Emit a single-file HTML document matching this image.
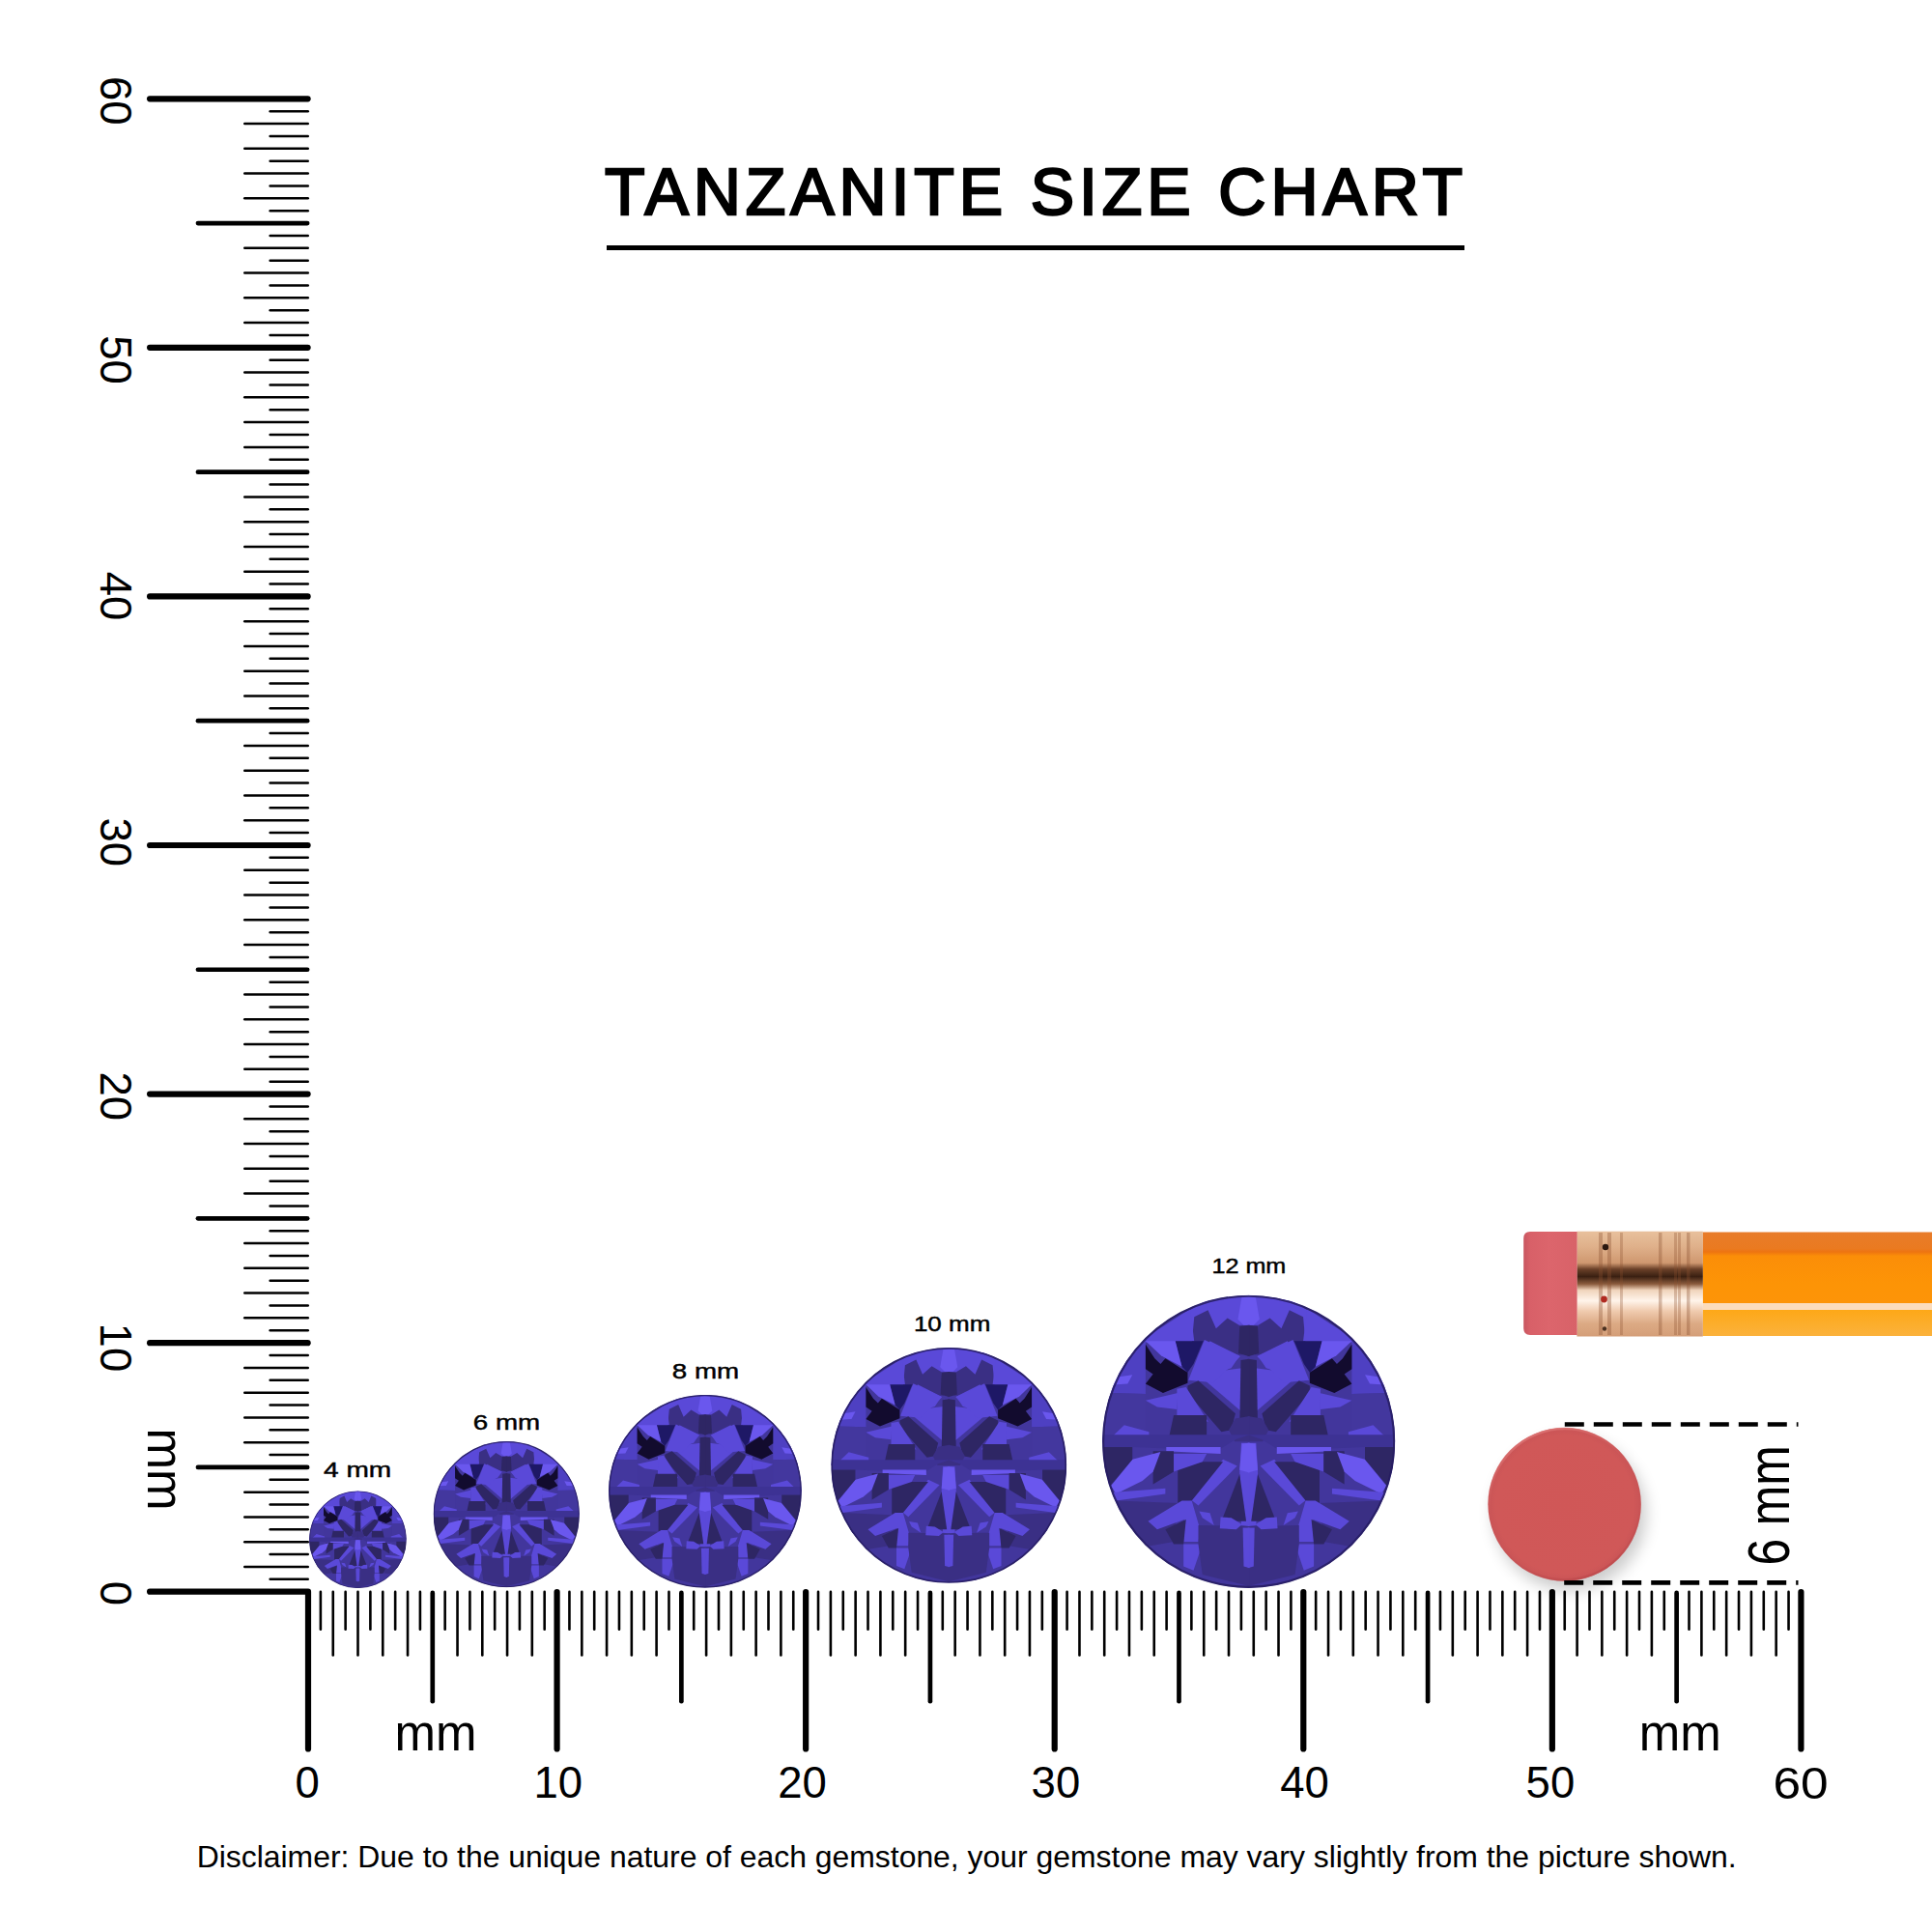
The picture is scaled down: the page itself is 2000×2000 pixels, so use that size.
<!DOCTYPE html>
<html><head><meta charset="utf-8"><style>
html,body{margin:0;padding:0;background:#fff;}
svg{display:block;}
</style></head><body>
<svg width="2000" height="2000" viewBox="0 0 2000 2000">
<defs>
<filter id="blur" x="-20%" y="-20%" width="140%" height="140%"><feGaussianBlur stdDeviation="8"/></filter>
<radialGradient id="redg" cx="0.5" cy="0.5" r="0.5"><stop offset="0" stop-color="#d05757"/><stop offset="0.9" stop-color="#d05858"/><stop offset="1" stop-color="#c95456"/></radialGradient>
<linearGradient id="redrim" x1="0.3" y1="0" x2="0.7" y2="1"><stop offset="0" stop-color="#de7676"/><stop offset="0.45" stop-color="#d05858" stop-opacity="0"/><stop offset="0.75" stop-color="#c04c4e" stop-opacity="0.3"/><stop offset="1" stop-color="#bf4a4d"/></linearGradient>
<linearGradient id="orange" x1="0" y1="0" x2="0" y2="1">
<stop offset="0" stop-color="#e87c2a"/><stop offset="0.16" stop-color="#ea7a20"/><stop offset="0.19" stop-color="#ee7410"/><stop offset="0.23" stop-color="#fb8e08"/><stop offset="0.5" stop-color="#fd9406"/><stop offset="0.68" stop-color="#fd9408"/><stop offset="0.685" stop-color="#fcdcbc"/><stop offset="0.745" stop-color="#fcdcbc"/><stop offset="0.75" stop-color="#fda818"/><stop offset="1" stop-color="#fbb23c"/></linearGradient>
<linearGradient id="ferr" x1="0" y1="0" x2="0" y2="1">
<stop offset="0" stop-color="#e8c09c"/><stop offset="0.15" stop-color="#dfb08a"/><stop offset="0.3" stop-color="#cf9870"/><stop offset="0.36" stop-color="#6a4028"/><stop offset="0.43" stop-color="#3a2012"/><stop offset="0.5" stop-color="#8a5a3c"/><stop offset="0.56" stop-color="#f0d4bc"/><stop offset="0.66" stop-color="#fff4ea"/><stop offset="0.76" stop-color="#efcaae"/><stop offset="0.88" stop-color="#dcaa84"/><stop offset="1" stop-color="#d49e78"/></linearGradient>
<linearGradient id="eras" x1="0" y1="0" x2="1" y2="0"><stop offset="0" stop-color="#c85660"/><stop offset="0.12" stop-color="#d86068"/><stop offset="0.5" stop-color="#dc656c"/><stop offset="1" stop-color="#d86268"/></linearGradient>
<symbol id="gem" viewBox="0 0 200 200"><clipPath id="gc"><circle cx="100" cy="100" r="100"/></clipPath><g clip-path="url(#gc)"><circle cx="100" cy="100" r="100" fill="#42369c"/>
<polygon points="99.4,0.0 130.2,3.9 167.1,27.5 171.8,32.2 131.0,32.2 106.6,20.4 99.4,20.4" fill="#5a49d8"/>
<polygon points="100.6,0.0 69.8,3.9 32.9,27.5 28.2,32.2 69.0,32.2 93.4,20.4 100.6,20.4" fill="#5a49d8"/>
<polygon points="106.6,20.4 114.5,15.7 122.3,22.8 127.8,10.2 137.2,14.9 138.8,32.2 131.0,32.2 123.9,40.8 104.2,40.8" fill="#3a2f84"/>
<polygon points="93.4,20.4 85.5,15.7 77.7,22.8 72.2,10.2 62.8,14.9 61.2,32.2 69.0,32.2 76.1,40.8 95.8,40.8" fill="#3a2f84"/>
<polygon points="99.4,0.4 104.6,0.6 107.4,16.5 103.5,20.4 99.4,20.4" fill="#6a57ee"/>
<polygon points="100.6,0.4 95.4,0.6 92.6,16.5 96.5,20.4 100.6,20.4" fill="#6a57ee"/>
<polygon points="140.0,9.4 165.3,25.8 170.4,31.4 150.1,31.4 137.2,31.4" fill="#5a49d8"/>
<polygon points="60.0,9.4 34.7,25.8 29.6,31.4 49.9,31.4 62.8,31.4" fill="#5a49d8"/>
<polygon points="165.3,25.8 176.5,35.9 187.8,49.9 195.1,66.8 170.4,67.4 170.4,31.4" fill="#4e40c2"/>
<polygon points="34.7,25.8 23.5,35.9 12.2,49.9 4.9,66.8 29.6,67.4 29.6,31.4" fill="#4e40c2"/>
<polygon points="170.4,67.4 195.1,66.8 199.0,86.5 200.2,100.0 170.4,92.1" fill="#43379e"/>
<polygon points="29.6,67.4 4.9,66.8 1.0,86.5 -0.2,100.0 29.6,92.1" fill="#43379e"/>
<polygon points="106.2,41.5 126.5,31.4 134.4,47.1 131.6,56.1 111.9,49.9" fill="#5a49d8"/>
<polygon points="93.8,41.5 73.5,31.4 65.6,47.1 68.4,56.1 88.1,49.9" fill="#5a49d8"/>
<polygon points="104.6,79.8 104.6,49.9 118.6,51.6 131.0,57.3" fill="#5a49d8"/>
<polygon points="95.4,79.8 95.4,49.9 81.4,51.6 69.0,57.3" fill="#5a49d8"/>
<polygon points="131.0,31.4 150.1,31.4 145.6,48.8 141.7,52.8 137.7,47.1" fill="#1e1866"/>
<polygon points="69.0,31.4 49.9,31.4 54.4,48.8 58.3,52.8 62.3,47.1" fill="#1e1866"/>
<polygon points="150.1,31.4 170.4,31.4 159.7,41.5 145.6,48.8" fill="#6a57ee"/>
<polygon points="49.9,31.4 29.6,31.4 40.3,41.5 54.4,48.8" fill="#6a57ee"/>
<polygon points="141.7,52.8 156.9,43.2 160.2,47.1 164.2,43.2 170.4,33.6 170.4,50.5 165.3,53.9 170.4,60.6 158.5,66.8 141.7,60.1" fill="#120b2e"/>
<polygon points="58.3,52.8 43.1,43.2 39.8,47.1 35.8,43.2 29.6,33.6 29.6,50.5 34.7,53.9 29.6,60.6 41.5,66.8 58.3,60.1" fill="#120b2e"/>
<polygon points="179.4,54.4 190.6,56.1 192.9,61.2 182.7,60.6" fill="#6a57ee"/>
<polygon points="20.6,54.4 9.4,56.1 7.1,61.2 17.3,60.6" fill="#6a57ee"/>
<polygon points="99.4,20.4 106.2,21.2 107.0,39.7 99.4,42.0" fill="#2e2664"/>
<polygon points="100.6,20.4 93.8,21.2 93.0,39.7 100.6,42.0" fill="#2e2664"/>
<polygon points="99.4,43.6 105.4,44.4 106.2,91.1 99.4,94.3" fill="#2e2664"/>
<polygon points="100.6,43.6 94.6,44.4 93.8,91.1 100.6,94.3" fill="#2e2664"/>
<polygon points="105.8,42.0 130.2,30.6 141.2,58.1 123.9,59.7" fill="#5a49d8"/>
<polygon points="94.2,42.0 69.8,30.6 58.8,58.1 76.1,59.7" fill="#5a49d8"/>
<polygon points="111.9,92.1 109.1,80.9 134.4,58.4 141.7,61.8 141.7,66.8 118.6,93.3" fill="#2e2664"/>
<polygon points="88.1,92.1 90.9,80.9 65.6,58.4 58.3,61.8 58.3,66.8 81.4,93.3" fill="#2e2664"/>
<polygon points="127.6,86.5 142.8,62.9 149.0,64.0 149.0,83.7" fill="#5a49d8"/>
<polygon points="72.4,86.5 57.2,62.9 51.0,64.0 51.0,83.7" fill="#5a49d8"/>
<polygon points="148.4,66.8 170.4,71.9 162.5,76.4 149.0,78.1" fill="#5a49d8"/>
<polygon points="51.6,66.8 29.6,71.9 37.5,76.4 51.0,78.1" fill="#5a49d8"/>
<polygon points="128.7,82.0 151.2,82.0 154.6,97.8 128.7,96.6" fill="#2e2664"/>
<polygon points="71.3,82.0 48.8,82.0 45.4,97.8 71.3,96.6" fill="#2e2664"/>
<polygon points="168.1,93.3 185.0,88.8 197.4,100.6 168.1,97.2" fill="#5a49d8"/>
<polygon points="31.9,93.3 15.0,88.8 2.6,100.6 31.9,97.2" fill="#5a49d8"/>
<polygon points="99.4,82.6 109.1,84.3 113.6,92.1 109.6,100.0 99.4,100.0" fill="#3a2f84"/>
<polygon points="100.6,82.6 90.9,84.3 86.4,92.1 90.4,100.0 100.6,100.0" fill="#3a2f84"/>
<polygon points="128.7,95.3 168.1,95.3 199.0,95.3 199.6,103.8 179.4,103.8 151.2,104.9 119.2,104.9 109.1,98.7 99.4,95.3" fill="#3d3294"/>
<polygon points="71.3,95.3 31.9,95.3 1.0,95.3 0.4,103.8 20.6,103.8 48.8,104.9 80.8,104.9 90.9,98.7 100.6,95.3" fill="#3d3294"/>
<polygon points="99.4,100.0 99.4,101.0 105.1,101.0 106.2,120.6 105.1,157.2 99.4,157.8" fill="#5a49d8"/>
<polygon points="100.6,100.0 100.6,101.0 94.9,101.0 93.8,120.6 94.9,157.2 100.6,157.8" fill="#5a49d8"/>
<polygon points="99.4,101.0 104.6,101.5 106.2,119.5 99.4,121.2" fill="#6a57ee"/>
<polygon points="100.6,101.0 95.4,101.5 93.8,119.5 100.6,121.2" fill="#6a57ee"/>
<polygon points="106.2,122.3 118.6,154.4 101.7,154.4" fill="#2e2664"/>
<polygon points="93.8,122.3 81.4,154.4 98.3,154.4" fill="#2e2664"/>
<polygon points="107.9,116.7 117.5,112.2 140.0,139.2 134.4,143.7" fill="#5a49d8"/>
<polygon points="92.1,116.7 82.5,112.2 60.0,139.2 65.6,143.7" fill="#5a49d8"/>
<polygon points="117.5,113.9 148.4,113.9 148.4,142.0 138.9,140.3" fill="#2e2664"/>
<polygon points="82.5,113.9 51.6,113.9 51.6,142.0 61.1,140.3" fill="#2e2664"/>
<polygon points="119.2,103.8 156.3,103.8 156.3,106.6 119.2,108.3" fill="#6a57ee"/>
<polygon points="80.8,103.8 43.7,103.8 43.7,106.6 80.8,108.3" fill="#6a57ee"/>
<polygon points="128.7,108.3 151.2,108.3 151.2,120.6 131.6,113.9" fill="#5a49d8"/>
<polygon points="71.3,108.3 48.8,108.3 48.8,120.6 68.4,113.9" fill="#5a49d8"/>
<polygon points="151.2,106.6 165.3,106.6 165.3,129.1 151.2,120.6" fill="#2e2664"/>
<polygon points="48.8,106.6 34.7,106.6 34.7,129.1 48.8,120.6" fill="#2e2664"/>
<polygon points="160.2,107.1 179.4,112.2 194.0,130.2 190.6,135.8 172.6,126.8 165.3,120.6" fill="#6a57ee"/>
<polygon points="39.8,107.1 20.6,112.2 6.0,130.2 9.4,135.8 27.4,126.8 34.7,120.6" fill="#6a57ee"/>
<polygon points="179.4,103.8 199.6,103.8 198.5,117.8 194.5,130.2 179.4,112.2" fill="#2e2664"/>
<polygon points="20.6,103.8 0.4,103.8 1.5,117.8 5.5,130.2 20.6,112.2" fill="#2e2664"/>
<polygon points="156.9,131.9 193.4,134.7 190.6,140.3 156.9,135.8" fill="#5a49d8"/>
<polygon points="43.1,131.9 6.6,134.7 9.4,140.3 43.1,135.8" fill="#5a49d8"/>
<polygon points="148.4,142.0 190.6,140.3 182.2,157.2 168.1,171.3 151.2,168.4" fill="#3a2f84"/>
<polygon points="51.6,142.0 9.4,140.3 17.8,157.2 31.9,171.3 48.8,168.4" fill="#3a2f84"/>
<polygon points="138.9,140.3 145.6,140.3 168.7,154.4 162.5,160.0 143.9,153.3 144.5,168.4 134.4,168.4 133.2,160.0" fill="#5a49d8"/>
<polygon points="61.1,140.3 54.4,140.3 31.3,154.4 37.5,160.0 56.1,153.3 55.5,168.4 65.6,168.4 66.8,160.0" fill="#5a49d8"/>
<polygon points="142.8,153.3 156.9,160.0 151.2,170.1 144.5,170.1" fill="#2e2664"/>
<polygon points="57.2,153.3 43.1,160.0 48.8,170.1 55.5,170.1" fill="#2e2664"/>
<polygon points="131.6,170.1 144.5,170.1 144.5,185.3 137.7,188.1" fill="#5a49d8"/>
<polygon points="68.4,170.1 55.5,170.1 55.5,185.3 62.3,188.1" fill="#5a49d8"/>
<polygon points="99.4,157.8 134.4,157.2 134.4,170.1 131.6,190.9 99.4,198.8" fill="#3a2f84"/>
<polygon points="100.6,157.8 65.6,157.2 65.6,170.1 68.4,190.9 100.6,198.8" fill="#3a2f84"/>
<polygon points="99.4,158.9 104.0,158.9 103.4,185.3 99.4,186.4" fill="#5a49d8"/>
<polygon points="100.6,158.9 96.0,158.9 96.6,185.3 100.6,186.4" fill="#5a49d8"/>
<polygon points="104.6,156.6 111.9,152.1 119.2,151.6 119.7,159.4 108.5,160.0" fill="#5a49d8"/>
<polygon points="95.4,156.6 88.1,152.1 80.8,151.6 80.3,159.4 91.5,160.0" fill="#5a49d8"/>
<polygon points="123.7,157.2 126.5,148.8 133.8,147.6 131.6,152.1" fill="#5a49d8"/>
<polygon points="76.3,157.2 73.5,148.8 66.2,147.6 68.4,152.1" fill="#5a49d8"/></g><circle cx="100" cy="100" r="99.3" fill="none" stroke="#261c60" stroke-width="1.4" opacity="0.85"/></symbol>
</defs>
<rect width="2000" height="2000" fill="#fff"/>
<g stroke="#000" stroke-linecap="round" fill="none">
<line x1="279.65" y1="1634.82" x2="318.75" y2="1634.82" stroke-width="2.5"/>
<line x1="253.25" y1="1621.94" x2="318.75" y2="1621.94" stroke-width="2.5"/>
<line x1="279.65" y1="1609.06" x2="318.75" y2="1609.06" stroke-width="2.5"/>
<line x1="253.25" y1="1596.19" x2="318.75" y2="1596.19" stroke-width="2.5"/>
<line x1="279.65" y1="1583.31" x2="318.75" y2="1583.31" stroke-width="2.5"/>
<line x1="253.25" y1="1570.43" x2="318.75" y2="1570.43" stroke-width="2.5"/>
<line x1="279.65" y1="1557.55" x2="318.75" y2="1557.55" stroke-width="2.5"/>
<line x1="253.25" y1="1544.67" x2="318.75" y2="1544.67" stroke-width="2.5"/>
<line x1="279.65" y1="1531.79" x2="318.75" y2="1531.79" stroke-width="2.5"/>
<line x1="204.95" y1="1518.91" x2="318.15" y2="1518.91" stroke-width="4.7"/>
<line x1="279.65" y1="1506.04" x2="318.75" y2="1506.04" stroke-width="2.5"/>
<line x1="253.25" y1="1493.16" x2="318.75" y2="1493.16" stroke-width="2.5"/>
<line x1="279.65" y1="1480.28" x2="318.75" y2="1480.28" stroke-width="2.5"/>
<line x1="253.25" y1="1467.40" x2="318.75" y2="1467.40" stroke-width="2.5"/>
<line x1="279.65" y1="1454.52" x2="318.75" y2="1454.52" stroke-width="2.5"/>
<line x1="253.25" y1="1441.64" x2="318.75" y2="1441.64" stroke-width="2.5"/>
<line x1="279.65" y1="1428.77" x2="318.75" y2="1428.77" stroke-width="2.5"/>
<line x1="253.25" y1="1415.89" x2="318.75" y2="1415.89" stroke-width="2.5"/>
<line x1="279.65" y1="1403.01" x2="318.75" y2="1403.01" stroke-width="2.5"/>
<line x1="155.10" y1="1390.13" x2="318.60" y2="1390.13" stroke-width="6.2"/>
<line x1="279.65" y1="1377.25" x2="318.75" y2="1377.25" stroke-width="2.5"/>
<line x1="253.25" y1="1364.37" x2="318.75" y2="1364.37" stroke-width="2.5"/>
<line x1="279.65" y1="1351.49" x2="318.75" y2="1351.49" stroke-width="2.5"/>
<line x1="253.25" y1="1338.62" x2="318.75" y2="1338.62" stroke-width="2.5"/>
<line x1="279.65" y1="1325.74" x2="318.75" y2="1325.74" stroke-width="2.5"/>
<line x1="253.25" y1="1312.86" x2="318.75" y2="1312.86" stroke-width="2.5"/>
<line x1="279.65" y1="1299.98" x2="318.75" y2="1299.98" stroke-width="2.5"/>
<line x1="253.25" y1="1287.10" x2="318.75" y2="1287.10" stroke-width="2.5"/>
<line x1="279.65" y1="1274.22" x2="318.75" y2="1274.22" stroke-width="2.5"/>
<line x1="204.95" y1="1261.35" x2="318.15" y2="1261.35" stroke-width="4.7"/>
<line x1="279.65" y1="1248.47" x2="318.75" y2="1248.47" stroke-width="2.5"/>
<line x1="253.25" y1="1235.59" x2="318.75" y2="1235.59" stroke-width="2.5"/>
<line x1="279.65" y1="1222.71" x2="318.75" y2="1222.71" stroke-width="2.5"/>
<line x1="253.25" y1="1209.83" x2="318.75" y2="1209.83" stroke-width="2.5"/>
<line x1="279.65" y1="1196.95" x2="318.75" y2="1196.95" stroke-width="2.5"/>
<line x1="253.25" y1="1184.07" x2="318.75" y2="1184.07" stroke-width="2.5"/>
<line x1="279.65" y1="1171.20" x2="318.75" y2="1171.20" stroke-width="2.5"/>
<line x1="253.25" y1="1158.32" x2="318.75" y2="1158.32" stroke-width="2.5"/>
<line x1="279.65" y1="1145.44" x2="318.75" y2="1145.44" stroke-width="2.5"/>
<line x1="155.10" y1="1132.56" x2="318.60" y2="1132.56" stroke-width="6.2"/>
<line x1="279.65" y1="1119.68" x2="318.75" y2="1119.68" stroke-width="2.5"/>
<line x1="253.25" y1="1106.80" x2="318.75" y2="1106.80" stroke-width="2.5"/>
<line x1="279.65" y1="1093.92" x2="318.75" y2="1093.92" stroke-width="2.5"/>
<line x1="253.25" y1="1081.05" x2="318.75" y2="1081.05" stroke-width="2.5"/>
<line x1="279.65" y1="1068.17" x2="318.75" y2="1068.17" stroke-width="2.5"/>
<line x1="253.25" y1="1055.29" x2="318.75" y2="1055.29" stroke-width="2.5"/>
<line x1="279.65" y1="1042.41" x2="318.75" y2="1042.41" stroke-width="2.5"/>
<line x1="253.25" y1="1029.53" x2="318.75" y2="1029.53" stroke-width="2.5"/>
<line x1="279.65" y1="1016.65" x2="318.75" y2="1016.65" stroke-width="2.5"/>
<line x1="204.95" y1="1003.77" x2="318.15" y2="1003.77" stroke-width="4.7"/>
<line x1="279.65" y1="990.90" x2="318.75" y2="990.90" stroke-width="2.5"/>
<line x1="253.25" y1="978.02" x2="318.75" y2="978.02" stroke-width="2.5"/>
<line x1="279.65" y1="965.14" x2="318.75" y2="965.14" stroke-width="2.5"/>
<line x1="253.25" y1="952.26" x2="318.75" y2="952.26" stroke-width="2.5"/>
<line x1="279.65" y1="939.38" x2="318.75" y2="939.38" stroke-width="2.5"/>
<line x1="253.25" y1="926.50" x2="318.75" y2="926.50" stroke-width="2.5"/>
<line x1="279.65" y1="913.63" x2="318.75" y2="913.63" stroke-width="2.5"/>
<line x1="253.25" y1="900.75" x2="318.75" y2="900.75" stroke-width="2.5"/>
<line x1="279.65" y1="887.87" x2="318.75" y2="887.87" stroke-width="2.5"/>
<line x1="155.10" y1="874.99" x2="318.60" y2="874.99" stroke-width="6.2"/>
<line x1="279.65" y1="862.11" x2="318.75" y2="862.11" stroke-width="2.5"/>
<line x1="253.25" y1="849.23" x2="318.75" y2="849.23" stroke-width="2.5"/>
<line x1="279.65" y1="836.35" x2="318.75" y2="836.35" stroke-width="2.5"/>
<line x1="253.25" y1="823.48" x2="318.75" y2="823.48" stroke-width="2.5"/>
<line x1="279.65" y1="810.60" x2="318.75" y2="810.60" stroke-width="2.5"/>
<line x1="253.25" y1="797.72" x2="318.75" y2="797.72" stroke-width="2.5"/>
<line x1="279.65" y1="784.84" x2="318.75" y2="784.84" stroke-width="2.5"/>
<line x1="253.25" y1="771.96" x2="318.75" y2="771.96" stroke-width="2.5"/>
<line x1="279.65" y1="759.08" x2="318.75" y2="759.08" stroke-width="2.5"/>
<line x1="204.95" y1="746.21" x2="318.15" y2="746.21" stroke-width="4.7"/>
<line x1="279.65" y1="733.33" x2="318.75" y2="733.33" stroke-width="2.5"/>
<line x1="253.25" y1="720.45" x2="318.75" y2="720.45" stroke-width="2.5"/>
<line x1="279.65" y1="707.57" x2="318.75" y2="707.57" stroke-width="2.5"/>
<line x1="253.25" y1="694.69" x2="318.75" y2="694.69" stroke-width="2.5"/>
<line x1="279.65" y1="681.81" x2="318.75" y2="681.81" stroke-width="2.5"/>
<line x1="253.25" y1="668.93" x2="318.75" y2="668.93" stroke-width="2.5"/>
<line x1="279.65" y1="656.06" x2="318.75" y2="656.06" stroke-width="2.5"/>
<line x1="253.25" y1="643.18" x2="318.75" y2="643.18" stroke-width="2.5"/>
<line x1="279.65" y1="630.30" x2="318.75" y2="630.30" stroke-width="2.5"/>
<line x1="155.10" y1="617.42" x2="318.60" y2="617.42" stroke-width="6.2"/>
<line x1="279.65" y1="604.54" x2="318.75" y2="604.54" stroke-width="2.5"/>
<line x1="253.25" y1="591.66" x2="318.75" y2="591.66" stroke-width="2.5"/>
<line x1="279.65" y1="578.78" x2="318.75" y2="578.78" stroke-width="2.5"/>
<line x1="253.25" y1="565.91" x2="318.75" y2="565.91" stroke-width="2.5"/>
<line x1="279.65" y1="553.03" x2="318.75" y2="553.03" stroke-width="2.5"/>
<line x1="253.25" y1="540.15" x2="318.75" y2="540.15" stroke-width="2.5"/>
<line x1="279.65" y1="527.27" x2="318.75" y2="527.27" stroke-width="2.5"/>
<line x1="253.25" y1="514.39" x2="318.75" y2="514.39" stroke-width="2.5"/>
<line x1="279.65" y1="501.51" x2="318.75" y2="501.51" stroke-width="2.5"/>
<line x1="204.95" y1="488.63" x2="318.15" y2="488.63" stroke-width="4.7"/>
<line x1="279.65" y1="475.76" x2="318.75" y2="475.76" stroke-width="2.5"/>
<line x1="253.25" y1="462.88" x2="318.75" y2="462.88" stroke-width="2.5"/>
<line x1="279.65" y1="450.00" x2="318.75" y2="450.00" stroke-width="2.5"/>
<line x1="253.25" y1="437.12" x2="318.75" y2="437.12" stroke-width="2.5"/>
<line x1="279.65" y1="424.24" x2="318.75" y2="424.24" stroke-width="2.5"/>
<line x1="253.25" y1="411.36" x2="318.75" y2="411.36" stroke-width="2.5"/>
<line x1="279.65" y1="398.49" x2="318.75" y2="398.49" stroke-width="2.5"/>
<line x1="253.25" y1="385.61" x2="318.75" y2="385.61" stroke-width="2.5"/>
<line x1="279.65" y1="372.73" x2="318.75" y2="372.73" stroke-width="2.5"/>
<line x1="155.10" y1="359.85" x2="318.60" y2="359.85" stroke-width="6.2"/>
<line x1="279.65" y1="346.97" x2="318.75" y2="346.97" stroke-width="2.5"/>
<line x1="253.25" y1="334.09" x2="318.75" y2="334.09" stroke-width="2.5"/>
<line x1="279.65" y1="321.21" x2="318.75" y2="321.21" stroke-width="2.5"/>
<line x1="253.25" y1="308.34" x2="318.75" y2="308.34" stroke-width="2.5"/>
<line x1="279.65" y1="295.46" x2="318.75" y2="295.46" stroke-width="2.5"/>
<line x1="253.25" y1="282.58" x2="318.75" y2="282.58" stroke-width="2.5"/>
<line x1="279.65" y1="269.70" x2="318.75" y2="269.70" stroke-width="2.5"/>
<line x1="253.25" y1="256.82" x2="318.75" y2="256.82" stroke-width="2.5"/>
<line x1="279.65" y1="243.94" x2="318.75" y2="243.94" stroke-width="2.5"/>
<line x1="204.95" y1="231.07" x2="318.15" y2="231.07" stroke-width="4.7"/>
<line x1="279.65" y1="218.19" x2="318.75" y2="218.19" stroke-width="2.5"/>
<line x1="253.25" y1="205.31" x2="318.75" y2="205.31" stroke-width="2.5"/>
<line x1="279.65" y1="192.43" x2="318.75" y2="192.43" stroke-width="2.5"/>
<line x1="253.25" y1="179.55" x2="318.75" y2="179.55" stroke-width="2.5"/>
<line x1="279.65" y1="166.67" x2="318.75" y2="166.67" stroke-width="2.5"/>
<line x1="253.25" y1="153.79" x2="318.75" y2="153.79" stroke-width="2.5"/>
<line x1="279.65" y1="140.92" x2="318.75" y2="140.92" stroke-width="2.5"/>
<line x1="253.25" y1="128.04" x2="318.75" y2="128.04" stroke-width="2.5"/>
<line x1="279.65" y1="115.16" x2="318.75" y2="115.16" stroke-width="2.5"/>
<line x1="155.10" y1="102.28" x2="318.60" y2="102.28" stroke-width="6.2"/>
<line x1="331.88" y1="1647.90" x2="331.88" y2="1686.70" stroke-width="2.6"/>
<line x1="344.76" y1="1647.90" x2="344.76" y2="1713.40" stroke-width="2.6"/>
<line x1="357.64" y1="1647.90" x2="357.64" y2="1686.70" stroke-width="2.6"/>
<line x1="370.51" y1="1647.90" x2="370.51" y2="1713.40" stroke-width="2.6"/>
<line x1="383.39" y1="1647.90" x2="383.39" y2="1686.70" stroke-width="2.6"/>
<line x1="396.27" y1="1647.90" x2="396.27" y2="1713.40" stroke-width="2.6"/>
<line x1="409.15" y1="1647.90" x2="409.15" y2="1686.70" stroke-width="2.6"/>
<line x1="422.03" y1="1647.90" x2="422.03" y2="1713.40" stroke-width="2.6"/>
<line x1="434.91" y1="1647.90" x2="434.91" y2="1686.70" stroke-width="2.6"/>
<line x1="447.78" y1="1648.95" x2="447.78" y2="1761.15" stroke-width="4.7"/>
<line x1="460.66" y1="1647.90" x2="460.66" y2="1686.70" stroke-width="2.6"/>
<line x1="473.54" y1="1647.90" x2="473.54" y2="1713.40" stroke-width="2.6"/>
<line x1="486.42" y1="1647.90" x2="486.42" y2="1686.70" stroke-width="2.6"/>
<line x1="499.30" y1="1647.90" x2="499.30" y2="1713.40" stroke-width="2.6"/>
<line x1="512.18" y1="1647.90" x2="512.18" y2="1686.70" stroke-width="2.6"/>
<line x1="525.06" y1="1647.90" x2="525.06" y2="1713.40" stroke-width="2.6"/>
<line x1="537.93" y1="1647.90" x2="537.93" y2="1686.70" stroke-width="2.6"/>
<line x1="550.81" y1="1647.90" x2="550.81" y2="1713.40" stroke-width="2.6"/>
<line x1="563.69" y1="1647.90" x2="563.69" y2="1686.70" stroke-width="2.6"/>
<line x1="576.57" y1="1648.10" x2="576.57" y2="1810.40" stroke-width="6.2"/>
<line x1="589.45" y1="1647.90" x2="589.45" y2="1686.70" stroke-width="2.6"/>
<line x1="602.33" y1="1647.90" x2="602.33" y2="1713.40" stroke-width="2.6"/>
<line x1="615.21" y1="1647.90" x2="615.21" y2="1686.70" stroke-width="2.6"/>
<line x1="628.08" y1="1647.90" x2="628.08" y2="1713.40" stroke-width="2.6"/>
<line x1="640.96" y1="1647.90" x2="640.96" y2="1686.70" stroke-width="2.6"/>
<line x1="653.84" y1="1647.90" x2="653.84" y2="1713.40" stroke-width="2.6"/>
<line x1="666.72" y1="1647.90" x2="666.72" y2="1686.70" stroke-width="2.6"/>
<line x1="679.60" y1="1647.90" x2="679.60" y2="1713.40" stroke-width="2.6"/>
<line x1="692.48" y1="1647.90" x2="692.48" y2="1686.70" stroke-width="2.6"/>
<line x1="705.36" y1="1648.95" x2="705.36" y2="1761.15" stroke-width="4.7"/>
<line x1="718.23" y1="1647.90" x2="718.23" y2="1686.70" stroke-width="2.6"/>
<line x1="731.11" y1="1647.90" x2="731.11" y2="1713.40" stroke-width="2.6"/>
<line x1="743.99" y1="1647.90" x2="743.99" y2="1686.70" stroke-width="2.6"/>
<line x1="756.87" y1="1647.90" x2="756.87" y2="1713.40" stroke-width="2.6"/>
<line x1="769.75" y1="1647.90" x2="769.75" y2="1686.70" stroke-width="2.6"/>
<line x1="782.63" y1="1647.90" x2="782.63" y2="1713.40" stroke-width="2.6"/>
<line x1="795.50" y1="1647.90" x2="795.50" y2="1686.70" stroke-width="2.6"/>
<line x1="808.38" y1="1647.90" x2="808.38" y2="1713.40" stroke-width="2.6"/>
<line x1="821.26" y1="1647.90" x2="821.26" y2="1686.70" stroke-width="2.6"/>
<line x1="834.14" y1="1648.10" x2="834.14" y2="1810.40" stroke-width="6.2"/>
<line x1="847.02" y1="1647.90" x2="847.02" y2="1686.70" stroke-width="2.6"/>
<line x1="859.90" y1="1647.90" x2="859.90" y2="1713.40" stroke-width="2.6"/>
<line x1="872.78" y1="1647.90" x2="872.78" y2="1686.70" stroke-width="2.6"/>
<line x1="885.65" y1="1647.90" x2="885.65" y2="1713.40" stroke-width="2.6"/>
<line x1="898.53" y1="1647.90" x2="898.53" y2="1686.70" stroke-width="2.6"/>
<line x1="911.41" y1="1647.90" x2="911.41" y2="1713.40" stroke-width="2.6"/>
<line x1="924.29" y1="1647.90" x2="924.29" y2="1686.70" stroke-width="2.6"/>
<line x1="937.17" y1="1647.90" x2="937.17" y2="1713.40" stroke-width="2.6"/>
<line x1="950.05" y1="1647.90" x2="950.05" y2="1686.70" stroke-width="2.6"/>
<line x1="962.93" y1="1648.95" x2="962.93" y2="1761.15" stroke-width="4.7"/>
<line x1="975.80" y1="1647.90" x2="975.80" y2="1686.70" stroke-width="2.6"/>
<line x1="988.68" y1="1647.90" x2="988.68" y2="1713.40" stroke-width="2.6"/>
<line x1="1001.56" y1="1647.90" x2="1001.56" y2="1686.70" stroke-width="2.6"/>
<line x1="1014.44" y1="1647.90" x2="1014.44" y2="1713.40" stroke-width="2.6"/>
<line x1="1027.32" y1="1647.90" x2="1027.32" y2="1686.70" stroke-width="2.6"/>
<line x1="1040.20" y1="1647.90" x2="1040.20" y2="1713.40" stroke-width="2.6"/>
<line x1="1053.07" y1="1647.90" x2="1053.07" y2="1686.70" stroke-width="2.6"/>
<line x1="1065.95" y1="1647.90" x2="1065.95" y2="1713.40" stroke-width="2.6"/>
<line x1="1078.83" y1="1647.90" x2="1078.83" y2="1686.70" stroke-width="2.6"/>
<line x1="1091.71" y1="1648.10" x2="1091.71" y2="1810.40" stroke-width="6.2"/>
<line x1="1104.59" y1="1647.90" x2="1104.59" y2="1686.70" stroke-width="2.6"/>
<line x1="1117.47" y1="1647.90" x2="1117.47" y2="1713.40" stroke-width="2.6"/>
<line x1="1130.35" y1="1647.90" x2="1130.35" y2="1686.70" stroke-width="2.6"/>
<line x1="1143.22" y1="1647.90" x2="1143.22" y2="1713.40" stroke-width="2.6"/>
<line x1="1156.10" y1="1647.90" x2="1156.10" y2="1686.70" stroke-width="2.6"/>
<line x1="1168.98" y1="1647.90" x2="1168.98" y2="1713.40" stroke-width="2.6"/>
<line x1="1181.86" y1="1647.90" x2="1181.86" y2="1686.70" stroke-width="2.6"/>
<line x1="1194.74" y1="1647.90" x2="1194.74" y2="1713.40" stroke-width="2.6"/>
<line x1="1207.62" y1="1647.90" x2="1207.62" y2="1686.70" stroke-width="2.6"/>
<line x1="1220.49" y1="1648.95" x2="1220.49" y2="1761.15" stroke-width="4.7"/>
<line x1="1233.37" y1="1647.90" x2="1233.37" y2="1686.70" stroke-width="2.6"/>
<line x1="1246.25" y1="1647.90" x2="1246.25" y2="1713.40" stroke-width="2.6"/>
<line x1="1259.13" y1="1647.90" x2="1259.13" y2="1686.70" stroke-width="2.6"/>
<line x1="1272.01" y1="1647.90" x2="1272.01" y2="1713.40" stroke-width="2.6"/>
<line x1="1284.89" y1="1647.90" x2="1284.89" y2="1686.70" stroke-width="2.6"/>
<line x1="1297.77" y1="1647.90" x2="1297.77" y2="1713.40" stroke-width="2.6"/>
<line x1="1310.64" y1="1647.90" x2="1310.64" y2="1686.70" stroke-width="2.6"/>
<line x1="1323.52" y1="1647.90" x2="1323.52" y2="1713.40" stroke-width="2.6"/>
<line x1="1336.40" y1="1647.90" x2="1336.40" y2="1686.70" stroke-width="2.6"/>
<line x1="1349.28" y1="1648.10" x2="1349.28" y2="1810.40" stroke-width="6.2"/>
<line x1="1362.16" y1="1647.90" x2="1362.16" y2="1686.70" stroke-width="2.6"/>
<line x1="1375.04" y1="1647.90" x2="1375.04" y2="1713.40" stroke-width="2.6"/>
<line x1="1387.92" y1="1647.90" x2="1387.92" y2="1686.70" stroke-width="2.6"/>
<line x1="1400.79" y1="1647.90" x2="1400.79" y2="1713.40" stroke-width="2.6"/>
<line x1="1413.67" y1="1647.90" x2="1413.67" y2="1686.70" stroke-width="2.6"/>
<line x1="1426.55" y1="1647.90" x2="1426.55" y2="1713.40" stroke-width="2.6"/>
<line x1="1439.43" y1="1647.90" x2="1439.43" y2="1686.70" stroke-width="2.6"/>
<line x1="1452.31" y1="1647.90" x2="1452.31" y2="1713.40" stroke-width="2.6"/>
<line x1="1465.19" y1="1647.90" x2="1465.19" y2="1686.70" stroke-width="2.6"/>
<line x1="1478.07" y1="1648.95" x2="1478.07" y2="1761.15" stroke-width="4.7"/>
<line x1="1490.94" y1="1647.90" x2="1490.94" y2="1686.70" stroke-width="2.6"/>
<line x1="1503.82" y1="1647.90" x2="1503.82" y2="1713.40" stroke-width="2.6"/>
<line x1="1516.70" y1="1647.90" x2="1516.70" y2="1686.70" stroke-width="2.6"/>
<line x1="1529.58" y1="1647.90" x2="1529.58" y2="1713.40" stroke-width="2.6"/>
<line x1="1542.46" y1="1647.90" x2="1542.46" y2="1686.70" stroke-width="2.6"/>
<line x1="1555.34" y1="1647.90" x2="1555.34" y2="1713.40" stroke-width="2.6"/>
<line x1="1568.21" y1="1647.90" x2="1568.21" y2="1686.70" stroke-width="2.6"/>
<line x1="1581.09" y1="1647.90" x2="1581.09" y2="1713.40" stroke-width="2.6"/>
<line x1="1593.97" y1="1647.90" x2="1593.97" y2="1686.70" stroke-width="2.6"/>
<line x1="1606.85" y1="1648.10" x2="1606.85" y2="1810.40" stroke-width="6.2"/>
<line x1="1619.73" y1="1647.90" x2="1619.73" y2="1686.70" stroke-width="2.6"/>
<line x1="1632.61" y1="1647.90" x2="1632.61" y2="1713.40" stroke-width="2.6"/>
<line x1="1645.49" y1="1647.90" x2="1645.49" y2="1686.70" stroke-width="2.6"/>
<line x1="1658.36" y1="1647.90" x2="1658.36" y2="1713.40" stroke-width="2.6"/>
<line x1="1671.24" y1="1647.90" x2="1671.24" y2="1686.70" stroke-width="2.6"/>
<line x1="1684.12" y1="1647.90" x2="1684.12" y2="1713.40" stroke-width="2.6"/>
<line x1="1697.00" y1="1647.90" x2="1697.00" y2="1686.70" stroke-width="2.6"/>
<line x1="1709.88" y1="1647.90" x2="1709.88" y2="1713.40" stroke-width="2.6"/>
<line x1="1722.76" y1="1647.90" x2="1722.76" y2="1686.70" stroke-width="2.6"/>
<line x1="1735.63" y1="1648.95" x2="1735.63" y2="1761.15" stroke-width="4.7"/>
<line x1="1748.51" y1="1647.90" x2="1748.51" y2="1686.70" stroke-width="2.6"/>
<line x1="1761.39" y1="1647.90" x2="1761.39" y2="1713.40" stroke-width="2.6"/>
<line x1="1774.27" y1="1647.90" x2="1774.27" y2="1686.70" stroke-width="2.6"/>
<line x1="1787.15" y1="1647.90" x2="1787.15" y2="1713.40" stroke-width="2.6"/>
<line x1="1800.03" y1="1647.90" x2="1800.03" y2="1686.70" stroke-width="2.6"/>
<line x1="1812.91" y1="1647.90" x2="1812.91" y2="1713.40" stroke-width="2.6"/>
<line x1="1825.78" y1="1647.90" x2="1825.78" y2="1686.70" stroke-width="2.6"/>
<line x1="1838.66" y1="1647.90" x2="1838.66" y2="1713.40" stroke-width="2.6"/>
<line x1="1851.54" y1="1647.90" x2="1851.54" y2="1686.70" stroke-width="2.6"/>
<line x1="1864.42" y1="1648.10" x2="1864.42" y2="1810.40" stroke-width="6.2"/>
<path d="M155.1 1647.7 L319 1647.7 L319 1810.4" stroke-width="6.2" stroke-linejoin="round"/>
</g>
<g font-family="Liberation Sans" font-size="45.5" fill="#000" text-anchor="middle">
<text transform="translate(120.5 104.2) rotate(90)" x="0" y="16.3">60</text>
<text transform="translate(120.5 372.6) rotate(90)" x="0" y="16.3">50</text>
<text transform="translate(120.5 617.0) rotate(90)" x="0" y="16.3">40</text>
<text transform="translate(120.5 871.8) rotate(90)" x="0" y="16.3">30</text>
<text transform="translate(120.5 1134.7) rotate(90)" x="0" y="16.3">20</text>
<text transform="translate(120.5 1394.9) rotate(90)" x="0" y="16.3">10</text>
<text transform="translate(120.5 1649.5) rotate(90)" x="0" y="16.3">0</text>
</g>
<text transform="translate(166.5 1521.1) rotate(90)" x="0" y="13.2" font-family="Liberation Sans" font-size="51" text-anchor="middle">mm</text>
<g font-family="Liberation Sans" font-size="45.5" fill="#000" text-anchor="middle">
<text x="318.2" y="1861.2">0</text>
<text x="577.8" y="1861.2">10</text>
<text x="830.5" y="1861.2">20</text>
<text x="1092.9" y="1861.2">30</text>
<text x="1350.6" y="1861.2">40</text>
<text x="1604.9" y="1861.2">50</text>
<text x="1864.1" y="1861.5" textLength="57.2" lengthAdjust="spacingAndGlyphs">60</text>
</g>
<text x="451" y="1811.8" font-family="Liberation Sans" font-size="51" text-anchor="middle">mm</text>
<text x="1739.3" y="1811.8" font-family="Liberation Sans" font-size="51" text-anchor="middle">mm</text>
<text x="1070" y="221.9" font-family="Liberation Sans" font-size="68" text-anchor="middle" stroke="#000" stroke-width="2.4" stroke-linejoin="miter" textLength="888" lengthAdjust="spacing">TANZANITE SIZE CHART</text>
<rect x="628" y="254" width="888" height="5" fill="#000"/>
<text x="1000.65" y="1933" font-family="Liberation Sans" font-size="32" text-anchor="middle" textLength="1594" lengthAdjust="spacingAndGlyphs">Disclaimer: Due to the unique nature of each gemstone, your gemstone may vary slightly from the picture shown.</text>
<g font-family="Liberation Sans" font-size="22.5" text-anchor="middle" stroke="#000" stroke-width="0.45">
<text x="370.1" y="1528.8" textLength="70.1" lengthAdjust="spacingAndGlyphs">4 mm</text>
<text x="524.5" y="1480.2" textLength="69.3" lengthAdjust="spacingAndGlyphs">6 mm</text>
<text x="730.5" y="1426.8" textLength="69.3" lengthAdjust="spacingAndGlyphs">8 mm</text>
<text x="985.6" y="1378.2" textLength="79.4" lengthAdjust="spacingAndGlyphs">10 mm</text>
<text x="1292.9" y="1317.8" textLength="76.9" lengthAdjust="spacingAndGlyphs">12 mm</text>
</g>
<use href="#gem" x="320.10" y="1543.45" width="100.60" height="100.60"/>
<use href="#gem" x="448.70" y="1492.10" width="151.10" height="151.10"/>
<use href="#gem" x="630.05" y="1443.90" width="199.80" height="199.80"/>
<use href="#gem" x="860.35" y="1395.05" width="243.80" height="243.80"/>
<use href="#gem" x="1141.05" y="1340.70" width="303.20" height="303.20"/>
<circle cx="1625" cy="1567" r="79" fill="#000" opacity="0.2" filter="url(#blur)"/>
<circle cx="1619.6" cy="1557.3" r="79.2" fill="url(#redg)"/>
<circle cx="1619.6" cy="1557.3" r="78.2" fill="none" stroke="url(#redrim)" stroke-width="2.5" opacity="0.9"/>
<g stroke="#000" stroke-width="4.7" stroke-dasharray="20 10">
<line x1="1619.8" y1="1474.5" x2="1861.5" y2="1474.5"/>
<line x1="1619.2" y1="1638.4" x2="1861.5" y2="1638.4"/>
</g>
<text transform="translate(1852.2 1558.5) rotate(-90) scale(0.815 1)" x="0" y="0" font-family="Liberation Sans" font-size="61" text-anchor="middle">6 mm</text>
<g id="pencil">
<rect x="1762.5" y="1275.5" width="240" height="107.5" fill="url(#orange)"/>
<rect x="1632.4" y="1274.7" width="130.4" height="108.8" fill="url(#ferr)"/>
<rect x="1655" y="1276" width="4" height="106" fill="#8a5030" opacity="0.35"/>
<rect x="1664" y="1276" width="4" height="106" fill="#8a5030" opacity="0.35"/>
<rect x="1677" y="1276" width="3" height="106" fill="#8a5030" opacity="0.3"/>
<rect x="1717" y="1276" width="3.5" height="106" fill="#8a5030" opacity="0.35"/>
<rect x="1733" y="1276" width="3" height="106" fill="#8a5030" opacity="0.3"/>
<rect x="1737" y="1276" width="3" height="106" fill="#8a5030" opacity="0.3"/>
<rect x="1746" y="1276" width="3.5" height="106" fill="#8a5030" opacity="0.35"/>
<circle cx="1662" cy="1291" r="3.2" fill="#2a1810"/>
<circle cx="1660.5" cy="1345" r="3.4" fill="#b02a20"/>
<circle cx="1661" cy="1375.5" r="2.2" fill="#4a3020"/>
<path d="M1584 1275 H1632.6 V1382 H1584 Q1577.2 1382 1577.2 1375 V1282 Q1577.2 1275 1584 1275Z" fill="url(#eras)"/>
</g>
</svg>
</body></html>
